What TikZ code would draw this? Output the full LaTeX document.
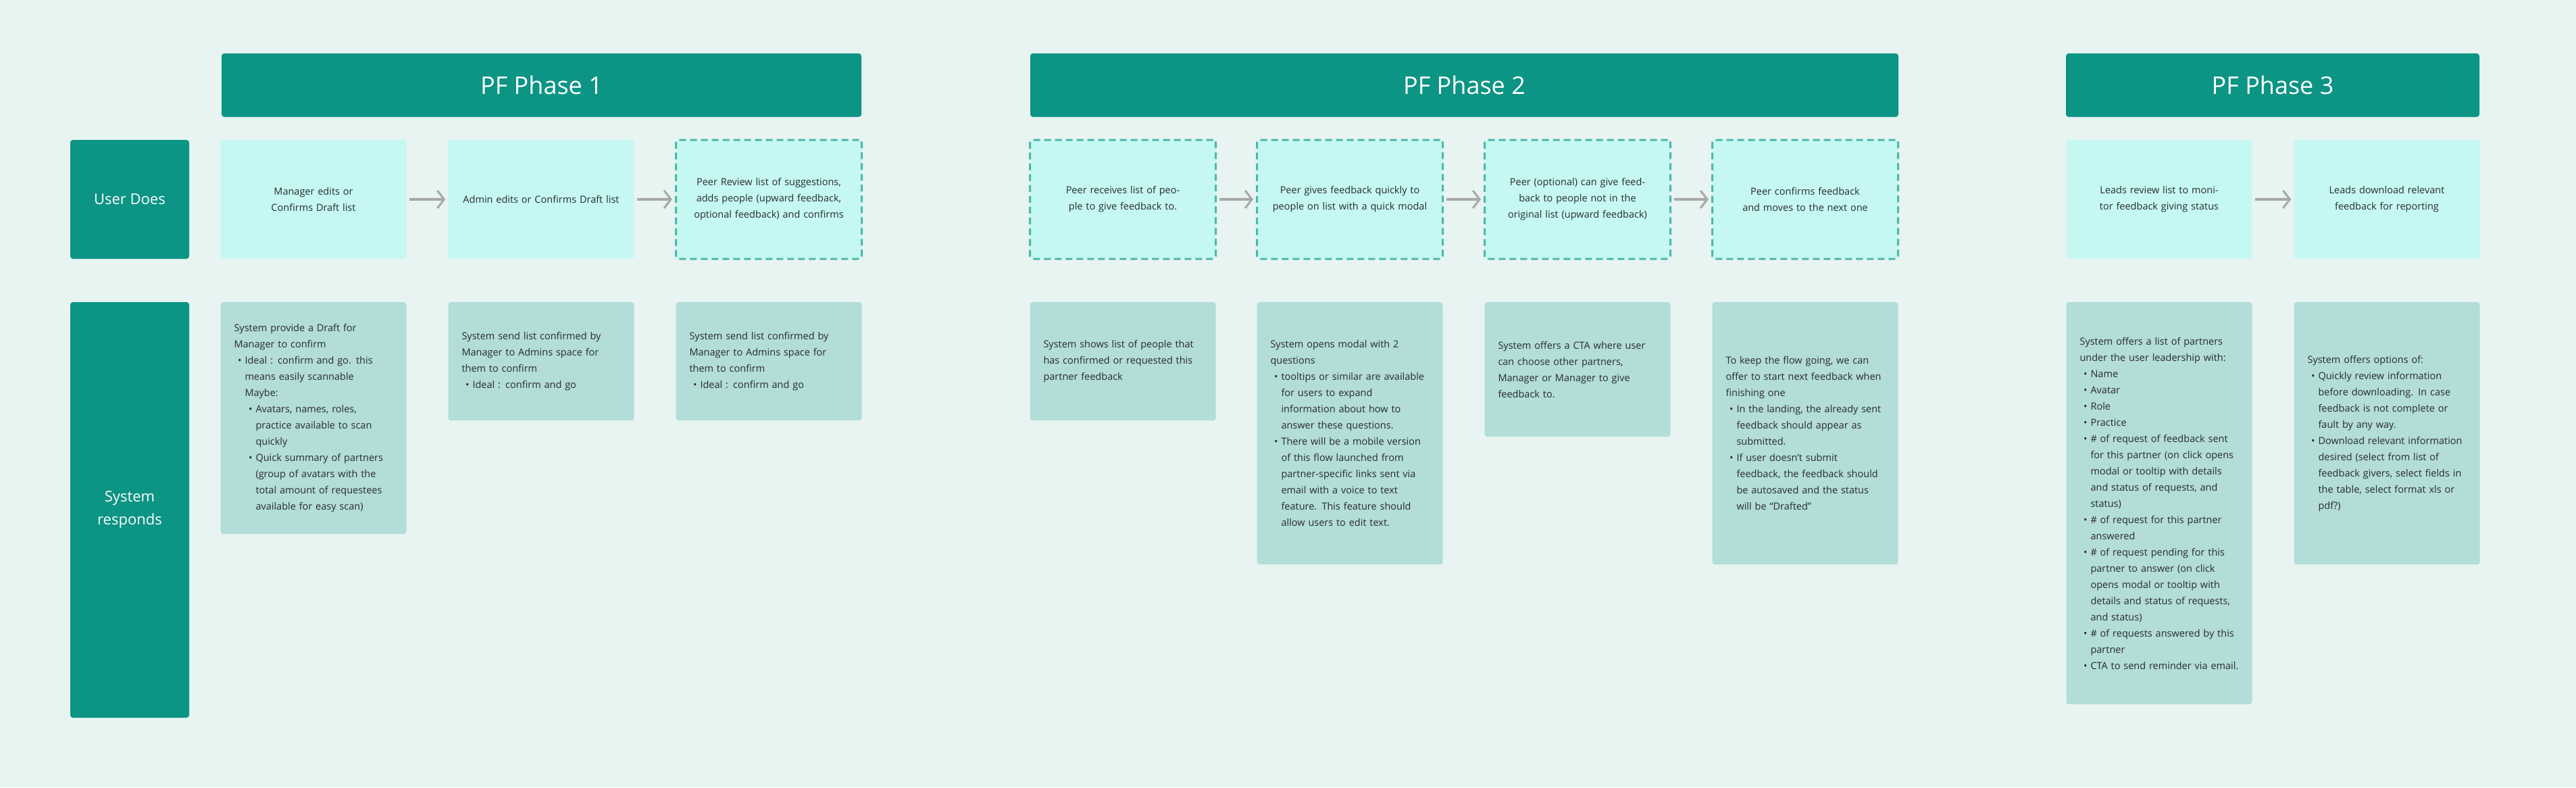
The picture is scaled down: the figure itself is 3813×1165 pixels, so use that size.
\documentclass[tikz,border=0pt]{standalone}
\usepackage{fontspec}
\setmainfont{Open Sans}
\usepackage{enumitem}
\usetikzlibrary{arrows.meta}
\definecolor{bg}{HTML}{E8F4F1}
\definecolor{teal}{HTML}{0C9484}
\definecolor{ufill}{HTML}{C5F8F3}
\definecolor{udash}{HTML}{4DB8A8}
\definecolor{sfill}{HTML}{B2DDD8}
\definecolor{arr}{HTML}{A8A8A8}
\definecolor{txt}{HTML}{2A2A2A}
\setlist[itemize]{label=\textbullet,leftmargin=16pt,itemsep=0pt,topsep=0pt,parsep=0pt,partopsep=0pt}
\setlist[itemize,2]{label=\textbullet,leftmargin=16pt}
\newcommand{\bodyfont}{\fontsize{14.5}{24}\selectfont}
\tikzset{
  hdr/.style={fill=teal,rounded corners=4pt,text=white,font=\fontsize{36}{40}\selectfont,minimum height=94pt,inner sep=0pt},
  lbl/.style={fill=teal,rounded corners=4pt,text=white,font=\fontsize{22}{34}\selectfont,minimum width=176pt,inner sep=0pt,align=center},
  ubox/.style={fill=ufill,rounded corners=4pt,minimum width=275pt,minimum height=176pt,text width=245pt,inner sep=0pt,align=center,text=txt,font=\bodyfont},
  dbox/.style={ubox,draw=udash,line width=3pt,dash pattern=on 10pt off 6pt},
  sbox/.style={fill=sfill,rounded corners=4pt,minimum width=275pt,text width=235pt,inner sep=0pt,text=txt,font=\bodyfont,anchor=north},
  flow/.style={draw=arr,line width=4pt,-{Straight Barb[length=10pt,width=26pt,line width=3pt]},shorten <=4pt,shorten >=4pt}
}
\newcommand{\sysbody}[2]{\begin{minipage}[c][#1][c]{235pt}\raggedright #2\end{minipage}}
\begin{document}
\begin{tikzpicture}[x=1pt,y=-1pt]
\fill[bg] (0,0) rectangle (3813,1165);
\useasboundingbox (0,0) rectangle (3813,1165);
% headers
\node[hdr,minimum width=947pt] (h1) at (801.5,126) {PF Phase 1};
\node[hdr,minimum width=1285pt] (h2) at (2167.5,126) {PF Phase 2};
\node[hdr,minimum width=612pt] (h3) at (3364,126) {PF Phase 3};
% row labels
\node[lbl,minimum height=176pt] (l1) at (192,295) {User Does};
\node[lbl,minimum height=615pt] (l2) at (192,754.5) {System\\responds};
% user row
\node[ubox] (u1) at (464,295) {Manager edits or Confirms Draft list};
\node[ubox] (u2) at (801,295) {Admin edits or Confirms Draft list};
\node[dbox] (u3) at (1138,295) {Peer Review list of suggestions, adds people (upward feedback, optional feedback) and confirms};
\node[dbox] (u4) at (1662,295) {Peer receives list of people to give feedback to.};
\node[dbox] (u5) at (1998,295) {Peer gives feedback quickly to people on list with a quick modal};
\node[dbox] (u6) at (2335,295) {Peer (optional) can give feedback to people not in the original list (upward feedback)};
\node[dbox] (u7) at (2672,295) {Peer confirms feedback and moves to the next one};
\node[ubox] (u8) at (3196,295) {Leads review list to monitor feedback giving status};
\node[ubox] (u9) at (3533,295) {Leads download relevant feedback for reporting};
\draw[flow] (u1) -- (u2);
\draw[flow] (u2) -- (u3);
\draw[flow] (u4) -- (u5);
\draw[flow] (u5) -- (u6);
\draw[flow] (u6) -- (u7);
\draw[flow] (u8) -- (u9);
% system row
\node[sbox] (s1) at (464,447) {\sysbody{343pt}{System provide a Draft for Manager to confirm
\begin{itemize}
\item Ideal : confirm and go. this means easily scannable\\Maybe:
\begin{itemize}
\item Avatars, names, roles, practice available to scan quickly
\item Quick summary of partners (group of avatars with the total amount of requestees available for easy scan)
\end{itemize}
\end{itemize}}};
\node[sbox] (s2) at (801,447) {\sysbody{175pt}{System send list confirmed by Manager to Admins space for them to confirm
\begin{itemize}\item Ideal : confirm and go\end{itemize}}};
\node[sbox] (s3) at (1138,447) {\sysbody{175pt}{System send list confirmed by Manager to Admins space for them to confirm
\begin{itemize}\item Ideal : confirm and go\end{itemize}}};
\node[sbox] (s4) at (1662,447) {\sysbody{175pt}{System shows list of people that has confirmed or requested this partner feedback}};
\node[sbox] (s5) at (1998,447) {\sysbody{388pt}{System opens modal with 2 questions
\begin{itemize}
\item tooltips or similar are available for users to expand information about how to answer these questions.
\item There will be a mobile version of this flow launched from partner-specific links sent via email with a voice to text feature. This feature should allow users to edit text.
\end{itemize}}};
\node[sbox] (s6) at (2335,447) {\sysbody{199pt}{System offers a CTA where user can choose other partners, Manager or Manager to give feedback to.}};
\node[sbox] (s7) at (2672,447) {\sysbody{388pt}{To keep the flow going, we can offer to start next feedback when finishing one
\begin{itemize}
\item In the landing, the already sent feedback should appear as submitted.
\item If user doesn't submit feedback, the feedback should be autosaved and the status will be “Drafted”
\end{itemize}}};
\node[sbox] (s8) at (3196,447) {\sysbody{595pt}{System offers a list of partners under the user leadership with:
\begin{itemize}
\item Name
\item Avatar
\item Role
\item Practice
\item \# of request of feedback sent for this partner (on click opens modal or tooltip with details and status of requests, and status)
\item \# of request for this partner answered
\item \# of request pending for this partner to answer (on click opens modal or tooltip with details and status of requests, and status)
\item \# of requests answered by this partner
\item CTA to send reminder via email.
\end{itemize}}};
\node[sbox] (s9) at (3533,447) {\sysbody{388pt}{System offers options of:
\begin{itemize}
\item Quickly review information before downloading. In case feedback is not complete or fault by any way.
\item Download relevant information desired (select from list of feedback givers, select fields in the table, select format xls or pdf?)
\end{itemize}}};
\end{tikzpicture}
\end{document}
